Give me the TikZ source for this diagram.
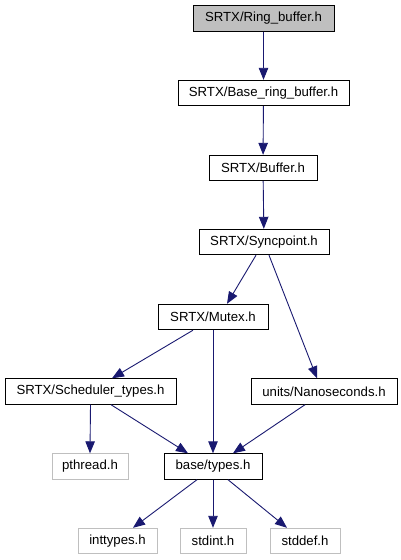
\documentclass[tikz,border=0pt]{standalone}
\usepackage{fontspec}
\setmainfont{Liberation Sans}
\usetikzlibrary{arrows.meta}
\definecolor{edgeblue}{HTML}{191970}
\definecolor{sysgray}{HTML}{BFBFBF}

\begin{document}
\begin{tikzpicture}[x=1pt,y=-1pt,
  every node/.style={font=\fontsize{13.2}{15}\selectfont,inner sep=0pt,minimum height=25.5pt},
  hdr/.style={draw=black,line width=0.9pt,fill=white},
  syshdr/.style={draw=sysgray,line width=0.9pt,fill=white},
  dep/.style={draw=edgeblue,line width=0.9pt,-{Triangle[length=12pt,width=9.5pt]}}]
\useasboundingbox (0,0) rectangle (401,560);
\node[hdr,fill=sysgray,minimum width=141pt] (ring) at (263.5,18.5) {SRTX/Ring\_buffer.h};
\node[hdr,minimum width=171pt] (basering) at (263.5,93) {SRTX/Base\_ring\_buffer.h};
\node[hdr,minimum width=108pt] (buffer) at (263,168) {SRTX/Buffer.h};
\node[hdr,minimum width=130pt] (sync) at (264,242) {SRTX/Syncpoint.h};
\node[hdr,minimum width=110pt] (mutex) at (213,317) {SRTX/Mutex.h};
\node[hdr,minimum width=171pt] (sched) at (90.5,391.5) {SRTX/Scheduler\_types.h};
\node[hdr,minimum width=146pt] (nano) at (324,391.5) {units/Nanoseconds.h};
\node[syshdr,minimum width=76pt] (pthread) at (90,466.5) {pthread.h};
\node[hdr,minimum width=98pt] (types) at (213,466.5) {base/types.h};
\node[syshdr,minimum width=79pt] (inttypes) at (117.5,541) {inttypes.h};
\node[syshdr,minimum width=66pt] (stdint) at (213,541) {stdint.h};
\node[syshdr,minimum width=70pt] (stddef) at (305,541) {stddef.h};

\draw[dep] (ring) -- (basering);
\draw[dep] (basering) -- (buffer);
\draw[dep] (buffer) -- (sync);
\draw[dep] ([xshift=-8pt]sync.south) -- ([xshift=14pt]mutex.north);
\draw[dep] ([xshift=5pt]sync.south) -- ([xshift=-7pt]nano.north);
\draw[dep] ([xshift=-20pt]mutex.south) -- ([xshift=21.5pt]sched.north);
\draw[dep] (mutex.south) -- (types.north);
\draw[dep] (sched.south) -- (pthread.north);
\draw[dep] ([xshift=20.5pt]sched.south) -- ([xshift=-25pt]types.north);
\draw[dep] ([xshift=-19pt]nano.south) -- ([xshift=20pt]types.north);
\draw[dep] ([xshift=-16pt]types.south) -- ([xshift=15.5pt]inttypes.north);
\draw[dep] (types.south) -- (stdint.north);
\draw[dep] ([xshift=15pt]types.south) -- ([xshift=-18pt]stddef.north);
\end{tikzpicture}
\end{document}
